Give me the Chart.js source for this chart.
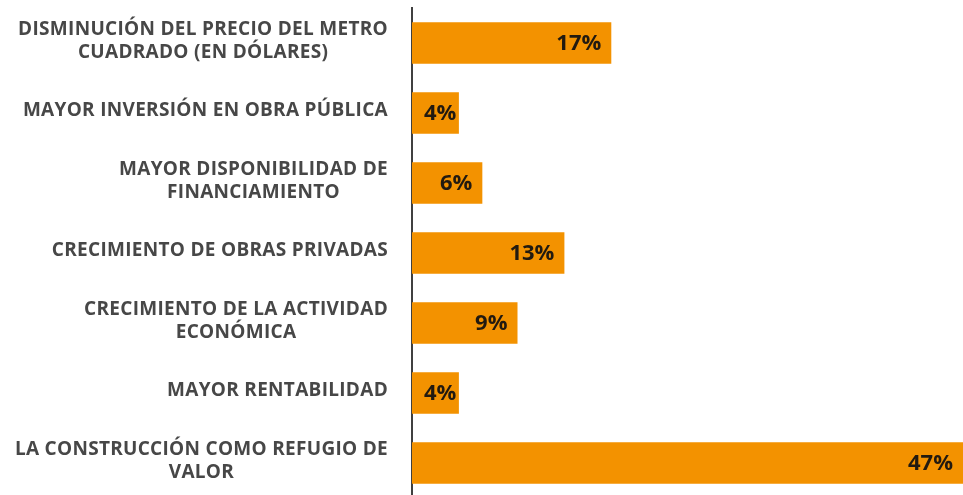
<!DOCTYPE html>
<html>
<head>
<meta charset="utf-8">
<script src="https://cdn.jsdelivr.net/npm/chart.js@4"></script>
<style>
  html, body { margin: 0; padding: 0; background: #fff; overflow: hidden; }
  #wrap { width: 963px; height: 495px; overflow: hidden; }
</style>
</head>
<body>
<div id="wrap"><canvas id="factorsChart" width="963" height="498"></canvas></div>
<script>
const categories = [
  ['DISMINUCIÓN DEL PRECIO DEL METRO', 'CUADRADO (EN DÓLARES)'],
  ['MAYOR INVERSIÓN EN OBRA PÚBLICA'],
  ['MAYOR DISPONIBILIDAD DE', 'FINANCIAMIENTO'],
  ['CRECIMIENTO DE OBRAS PRIVADAS'],
  ['CRECIMIENTO DE LA ACTIVIDAD', 'ECONÓMICA'],
  ['MAYOR RENTABILIDAD'],
  ['LA CONSTRUCCIÓN COMO REFUGIO DE', 'VALOR']
];
const percentages = [17, 4, 6, 13, 9, 4, 47];

const labelFont = 'bold 19px "Open Sans"';
const valueFont = 'bold 22px "Open Sans"';

// draws the category labels (right aligned block, lines centred) and the % values
const labelPlugin = {
  id: 'labelPlugin',
  afterDatasetsDraw(chart) {
    const ctx = chart.ctx;
    const yScale = chart.scales.y;
    const left = chart.chartArea.left;
    ctx.save();
    ctx.textBaseline = 'middle';

    ctx.font = labelFont;
    ctx.letterSpacing = '0.3px';
    ctx.fillStyle = '#474747';
    ctx.textAlign = 'center';
    const lineH = 23;
    categories.forEach(function(lines, i) {
      const y = yScale.getPixelForTick(i);
      let w = 0;
      lines.forEach(function(l) { w = Math.max(w, ctx.measureText(l).width); });
      const cx = left - 24 - w / 2;
      const y0 = y - (lines.length - 1) * lineH / 2 - 2;
      lines.forEach(function(l, k) { ctx.fillText(l, cx, y0 + k * lineH); });
    });

    ctx.font = valueFont;
    ctx.letterSpacing = '0px';
    ctx.fillStyle = '#221a10';
    ctx.textAlign = 'right';
    const meta = chart.getDatasetMeta(0);
    meta.data.forEach(function(bar, i) {
      const txt = percentages[i] + '%';
      const w = ctx.measureText(txt).width;
      const x = Math.max(bar.x - 10, left + 12 + w);
      ctx.fillText(txt, x, bar.y + 1);
    });
    ctx.restore();
  }
};

const chartCtx = document.getElementById('factorsChart').getContext('2d');
const factorsChart = new Chart(chartCtx, {
  type: 'bar',
  data: {
    labels: categories,
    datasets: [{
      data: percentages,
      backgroundColor: '#F39200',
      borderWidth: 0,
      barPercentage: 0.59,
      categoryPercentage: 1
    }]
  },
  options: {
    indexAxis: 'y',
    responsive: false,
    animation: false,
    layout: { padding: { top: 8, right: 0, bottom: 0, left: 0 } },
    plugins: {
      legend: { display: false },
      tooltip: { enabled: false }
    },
    scales: {
      x: {
        display: false,
        min: 0,
        max: 47
      },
      y: {
        grid: { display: false, drawTicks: false },
        border: { display: true, color: '#404040', width: 2 },
        ticks: { display: false },
        afterFit: function(scale) { scale.width = 412; }
      }
    }
  },
  plugins: [labelPlugin]
});
</script>
</body>
</html>
